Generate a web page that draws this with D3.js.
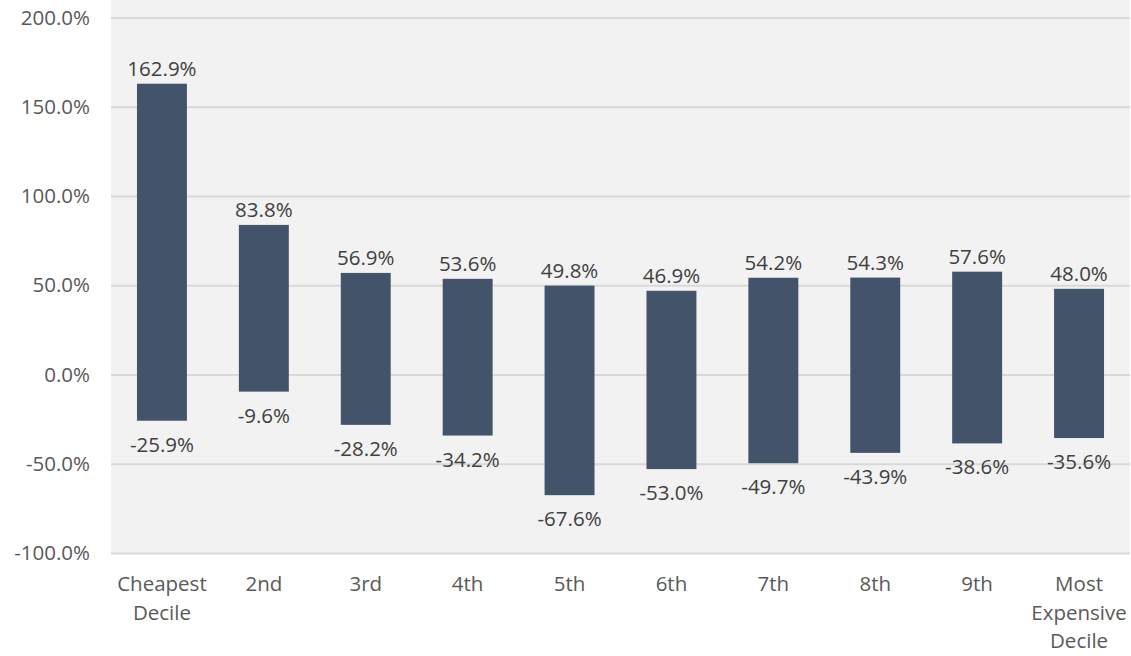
<!DOCTYPE html>
<html><head><meta charset="utf-8">
<script src="https://cdn.jsdelivr.net/npm/d3@7"></script>
<style>body{margin:0;background:#fff}svg{display:block}</style>
</head><body>
<svg id="c" width="1131" height="656"></svg>
<script>
const categories = [["Cheapest","Decile"],["2nd"],["3rd"],["4th"],["5th"],["6th"],["7th"],["8th"],["9th"],["Most","Expensive","Decile"]];
const highs = [162.9, 83.8, 56.9, 53.6, 49.8, 46.9, 54.2, 54.3, 57.6, 48.0];
const lows = [-25.9, -9.6, -28.2, -34.2, -67.6, -53.0, -49.7, -43.9, -38.6, -35.6];
const yTicks = [-100, -50, 0, 50, 100, 150, 200];

(function(){
const svg = d3.select("#c");
const font = "'Open Sans', 'Noto Sans', sans-serif";
const fs = "20.5px";
const mL = 111, mR = 1130, mT = 17.5, mB = 553;
const x = d3.scaleBand().domain(d3.range(categories.length)).range([mL, mR]).paddingInner(0.51).paddingOuter(0.255);
const y = d3.scaleLinear().domain([-100, 200]).range([mB, mT]);
const fmt = v => v.toFixed(1) + "%";

svg.append("rect").attr("x", mL).attr("y", 0).attr("width", mR - mL).attr("height", mB).attr("fill", "#f2f2f2");

const yAxis = d3.axisLeft(y).tickValues(yTicks).tickSize(-(mR - mL)).tickFormat(fmt).tickPadding(21);
const gy = svg.append("g").attr("transform", `translate(${mL},0)`).call(yAxis);
gy.select(".domain").remove();
gy.selectAll(".tick line").attr("stroke", "#d9d9d9").attr("stroke-width", 2);
gy.selectAll(".tick text").attr("fill", "#595959").style("font-family", font).style("font-size", fs);

const data = highs.map((h, i) => ({i, h, l: lows[i]}));
svg.append("g").selectAll("rect").data(data).join("rect")
  .attr("x", d => x(d.i)).attr("width", x.bandwidth())
  .attr("y", d => y(d.h)).attr("height", d => y(d.l) - y(d.h))
  .attr("fill", "#435369");

const lab = svg.append("g").style("font-family", font).style("font-size", fs).attr("fill", "#404040").attr("text-anchor", "middle");
lab.selectAll("text.hi").data(data).join("text").attr("class", "hi")
  .attr("x", d => x(d.i) + x.bandwidth() / 2).attr("y", d => y(d.h) - 8).text(d => fmt(d.h));
lab.selectAll("text.lo").data(data).join("text").attr("class", "lo")
  .attr("x", d => x(d.i) + x.bandwidth() / 2).attr("y", d => y(d.l) + 31).text(d => fmt(d.l));

const xl = svg.append("g").style("font-family", font).style("font-size", fs).attr("fill", "#595959").attr("text-anchor", "middle");
categories.forEach((lines, i) => {
  const cx = x(i) + x.bandwidth() / 2;
  const t = xl.append("text").attr("x", cx).attr("y", 591);
  lines.forEach((s, k) => t.append("tspan").attr("x", cx).attr("dy", k === 0 ? 0 : 28.5).text(s));
});
})();
</script>
</body></html>
